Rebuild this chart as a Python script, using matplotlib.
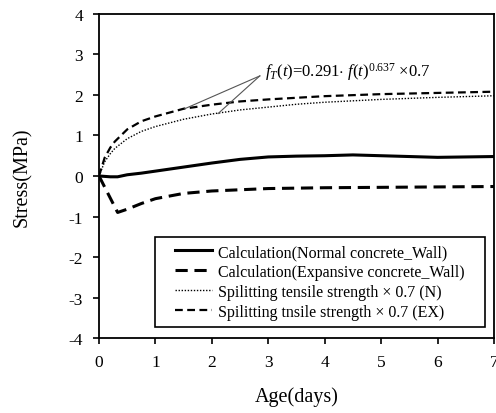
import matplotlib
matplotlib.use("Agg")
from matplotlib import pyplot as plt
from matplotlib.patches import Rectangle

plt.rcParams['font.family'] = ['Liberation Serif', 'DejaVu Serif']
plt.rcParams['mathtext.fontset'] = 'custom'
plt.rcParams['mathtext.rm'] = 'Liberation Serif'
plt.rcParams['mathtext.it'] = 'Liberation Serif:italic'
plt.rcParams['axes.unicode_minus'] = False

# calculated wall stress
t_normal = [0, 0.1, 0.2, 0.33, 0.5, 0.75, 1.0, 1.5, 2.0, 2.5, 3.0, 3.5, 4.0, 4.5, 5.0, 5.5, 6.0, 6.5, 7.0]
normal_wall = [0, -0.01, -0.02, -0.02, 0.03, 0.07, 0.12, 0.22, 0.32, 0.41, 0.47, 0.49, 0.50, 0.52, 0.50, 0.48, 0.46, 0.47, 0.48]

t_exp = [0, 0.33, 0.5, 0.75, 1.0, 1.5, 2.0, 2.5, 3.0, 3.5, 4.0, 5.0, 6.0, 7.0]
expansive_wall = [0, -0.90, -0.82, -0.68, -0.56, -0.43, -0.37, -0.34, -0.31, -0.30, -0.29, -0.28, -0.27, -0.26]

# splitting tensile strength x 0.7
t_split = [0, 0.1, 0.2, 0.28, 0.5, 0.75, 1.0, 1.5, 2.0, 2.5, 3.0, 3.5, 4.0, 5.0, 6.0, 7.0]
split_n = [0, 0.35, 0.55, 0.68, 0.92, 1.10, 1.22, 1.40, 1.53, 1.63, 1.70, 1.77, 1.82, 1.89, 1.94, 1.98]
split_ex = [0, 0.45, 0.70, 0.85, 1.15, 1.35, 1.47, 1.66, 1.76, 1.84, 1.89, 1.93, 1.97, 2.02, 2.05, 2.08]

labels = ["Calculation(Normal concrete_Wall)",
          "Calculation(Expansive concrete_Wall)",
          "Spilitting tensile strength \u00d7 0.7 (N)",
          "Spilitting tnsile strength \u00d7 0.7 (EX)"]

fig = plt.figure(figsize=(4.96, 4.14), dpi=100)
ax = fig.add_axes([0.1996, 0.181, 0.7964, 0.783])

ax.plot(t_normal, normal_wall, color='black', lw=2.2, label=labels[0])
ax.plot(t_exp, expansive_wall, color='black', lw=2.2, dashes=(4, 2.2), label=labels[1])
ax.plot(t_split, split_n, color='black', lw=1.0, dashes=(1, 1.2), label=labels[2])
ax.plot(t_split, split_ex, color='black', lw=1.6, dashes=(3.5, 2), label=labels[3])

# formula note with pointer lines to both strength curves
ax.text(2.95, 2.6, r"$f_T(t)$=0.291$\cdot$ $f(t)^{0.637}$ $\times$0.7",
        fontsize=12, va='center', ha='left')
ax.plot([2.85, 1.52], [2.47, 1.66], color='#555555', lw=0.8)
ax.plot([2.85, 2.11], [2.47, 1.54], color='#555555', lw=0.8)

ax.set_xlim(0, 7)
ax.set_ylim(-4, 4)
ax.set_xticks(range(0, 8))
ax.set_yticks(range(-4, 5))
ax.tick_params(direction='out', length=4.5, width=1.2, labelsize=12.5, pad=7,
               top=False, right=False)
for s in ax.spines.values():
    s.set_linewidth(1.3)

ax.set_xlabel("Age(days)", fontsize=14.5, labelpad=12)
ax.set_ylabel("Stress(MPa)", fontsize=14.5, labelpad=26)

# legend box drawn by hand so the side padding can be wider than top/bottom
box = (0.142, 0.034, 0.835, 0.278)
ax.add_patch(Rectangle(box[:2], box[2], box[3], transform=ax.transAxes,
                       facecolor='white', edgecolor='black', lw=1.2, zorder=4))
leg = ax.legend(loc='center', bbox_to_anchor=box,
                fontsize=11.5, handlelength=2.3, handletextpad=0.4,
                borderaxespad=0, borderpad=0, labelspacing=0.25,
                frameon=False)
leg.set_zorder(5)

fig.savefig("out.png", dpi=100)
